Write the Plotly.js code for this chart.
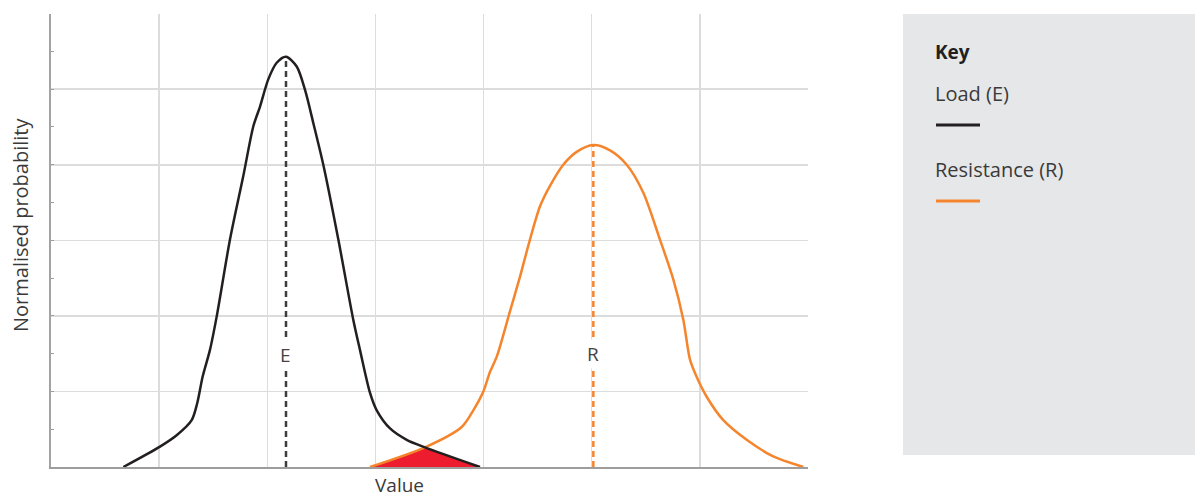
<!DOCTYPE html>
<html>
<head>
<meta charset="utf-8">
<script src="https://cdn.plot.ly/plotly-3.0.1.min.js"></script>
<style>
  html, body { margin: 0; padding: 0; background: #ffffff; }
  #chart { width: 1195px; height: 501px; }
</style>
</head>
<body>
<div id="chart"></div>
<script>
// ---- Data ----
const loadX = [0.669, 1.008, 1.162, 1.301, 1.353, 1.403, 1.470, 1.532, 1.655, 1.778, 1.871, 1.933, 2.009, 2.087, 2.173, 2.272, 2.349, 2.426, 2.518, 2.657, 2.795, 2.857, 2.950, 3.012, 3.135, 3.289, 3.458, 3.967];
const loadY = [0.00, 0.27, 0.42, 0.62, 0.85, 1.20, 1.55, 1.99, 3.01, 3.85, 4.51, 4.77, 5.13, 5.35, 5.43, 5.30, 4.99, 4.55, 4.00, 3.01, 1.95, 1.55, 0.98, 0.75, 0.51, 0.36, 0.26, 0.00];

const resX = [2.950, 3.458, 3.798, 3.905, 3.998, 4.060, 4.122, 4.244, 4.337, 4.429, 4.522, 4.614, 4.737, 4.861, 5.015, 5.169, 5.324, 5.477, 5.631, 5.755, 5.847, 5.909, 5.971, 6.063, 6.217, 6.433, 6.679, 6.957];
const resY = [0.00, 0.26, 0.53, 0.75, 1.00, 1.26, 1.46, 2.06, 2.52, 3.01, 3.45, 3.72, 4.00, 4.17, 4.26, 4.19, 4.00, 3.63, 3.01, 2.48, 1.95, 1.42, 1.19, 0.93, 0.62, 0.36, 0.14, 0.00];

const failX = [2.950, 3.458, 3.967];
const failY = [0.00, 0.26, 0.00];

const meanE = 2.173, peakE = 5.43, labelE = "E";
const meanR = 5.015, peakR = 4.26, labelR = "R";

const seriesNames = ["Load (E)", "Resistance (R)"];
const keyTitle = "Key";
const xTitle = "Value";
const yTitle = "Normalised probability";
const gridX = [1, 2, 3, 4, 5, 6];

// ---- Styles ----
const black = "#231f20";
const orange = "#f5852d";
const red = "#ed1c2e";
const textCol = "#3a3a3a";
const FONT = "Open Sans, sans-serif";

const traces = [
  { x: failX, y: failY, type: "scatter", mode: "lines", fill: "toself", fillcolor: red,
    line: { width: 0, color: red }, hoverinfo: "skip", showlegend: false },
  { x: [meanE, meanE], y: [0, peakE], type: "scatter", mode: "lines",
    line: { color: "#3d3d3d", width: 2.5, dash: "6px,4px" }, showlegend: false },
  { x: [meanR, meanR], y: [0, peakR], type: "scatter", mode: "lines",
    line: { color: orange, width: 2.5, dash: "6px,4px" }, showlegend: false },
  { x: resX, y: resY, type: "scatter", mode: "lines", name: seriesNames[1],
    line: { color: orange, width: 2.5, shape: "spline", smoothing: 0.8 }, showlegend: false },
  { x: loadX, y: loadY, type: "scatter", mode: "lines", name: seriesNames[0],
    line: { color: black, width: 2.5, shape: "spline", smoothing: 0.8 }, showlegend: false }
];

function px2paperX(p) { return (p - 51) / 757; }
function px2paperY(p) { return (467 - p) / 453; }

const keyL = px2paperX(936), keyR = px2paperX(980);
const txtL = px2paperX(933);

const layout = {
  width: 1195, height: 501,
  margin: { l: 51, r: 387, t: 14, b: 34 },
  paper_bgcolor: "#ffffff", plot_bgcolor: "#ffffff",
  font: { family: FONT, color: textCol, size: 20 },
  showlegend: false,
  xaxis: {
    range: [0, 7], tickvals: gridX, showticklabels: false, ticks: "",
    showgrid: true, gridcolor: "#dcdcdc", gridwidth: 1.5,
    zeroline: false, showline: true, linecolor: "#9d9d9d", linewidth: 1.5,
    fixedrange: true
  },
  yaxis: {
    range: [0, 5.995], dtick: 1, showticklabels: false,
    ticks: "inside", ticklen: 3, tickcolor: "#9d9d9d", tickwidth: 1,
    minor: { dtick: 0.5, ticks: "inside", ticklen: 3, tickcolor: "#9d9d9d", showgrid: false },
    showgrid: true, gridcolor: "#dcdcdc", gridwidth: 1.5,
    zeroline: false, showline: true, linecolor: "#a3a3a3", linewidth: 2.5,
    fixedrange: true
  },
  shapes: [
    { type: "rect", xref: "paper", yref: "paper", layer: "below",
      x0: px2paperX(903), x1: px2paperX(1196), y0: px2paperY(455), y1: px2paperY(14),
      fillcolor: "#e6e7e9", line: { width: 0 } },
    { type: "line", xref: "paper", yref: "paper",
      x0: keyL, x1: keyR, y0: px2paperY(125), y1: px2paperY(125),
      line: { color: black, width: 3 } },
    { type: "line", xref: "paper", yref: "paper",
      x0: keyL, x1: keyR, y0: px2paperY(201), y1: px2paperY(201),
      line: { color: orange, width: 3 } }
  ],
  annotations: [
    { text: labelE, x: meanE, y: 1.48, xref: "x", yref: "y", showarrow: false,
      bgcolor: "#ffffff", borderpad: 1, font: { size: 19, color: "#444" } },
    { text: labelR, x: meanR, y: 1.50, xref: "x", yref: "y", showarrow: false,
      bgcolor: "#ffffff", borderpad: 1, font: { size: 19, color: "#444" } },
    { text: "<b>" + keyTitle + "</b>", xref: "paper", yref: "paper", x: txtL, y: px2paperY(52),
      xanchor: "left", yanchor: "middle", showarrow: false, font: { size: 19, color: "#231f20" } },
    { text: seriesNames[0], xref: "paper", yref: "paper", x: txtL, y: px2paperY(93),
      xanchor: "left", yanchor: "middle", showarrow: false, font: { size: 20, color: textCol } },
    { text: seriesNames[1], xref: "paper", yref: "paper", x: txtL, y: px2paperY(169),
      xanchor: "left", yanchor: "middle", showarrow: false, font: { size: 20, color: textCol } },
    { text: xTitle, xref: "paper", yref: "paper", x: px2paperX(373), y: px2paperY(500),
      xanchor: "left", yanchor: "bottom", showarrow: false, font: { size: 19, color: textCol } },
    { text: yTitle, xref: "paper", yref: "paper", x: px2paperX(20), y: px2paperY(225),
      xanchor: "center", yanchor: "middle", textangle: -90, showarrow: false,
      font: { size: 20, color: textCol } }
  ]
};

Plotly.newPlot("chart", traces, layout, { displayModeBar: false, staticPlot: true });
</script>
</body>
</html>
